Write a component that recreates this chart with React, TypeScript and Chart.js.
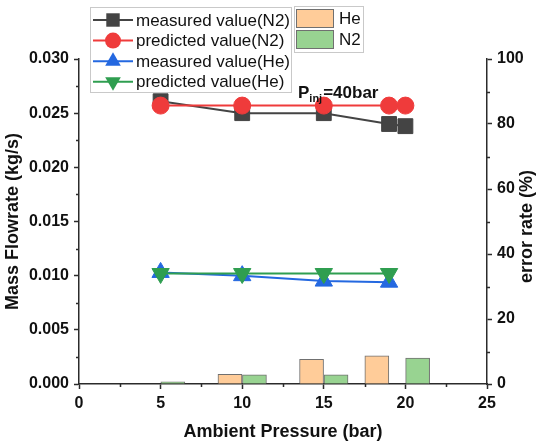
import React, { useEffect, useRef } from "react";
import { Chart, registerables } from "chart.js";

Chart.register(...registerables);

const FONT = '"Liberation Sans", Arial, Helvetica, sans-serif';

// ---- data ----
const pressureN2 = [5, 10, 15, 19, 20];
const measuredN2 = [0.0261, 0.025, 0.025, 0.024, 0.0238];
const predictedN2 = [0.0257, 0.0257, 0.0257, 0.0257, 0.0257];
const pressureHe = [5, 10, 15, 19];
const measuredHe = [0.0103, 0.01, 0.0095, 0.0094];
const predictedHe = [0.0102, 0.0102, 0.0102, 0.0102];
const errorPressureHe = [10, 15, 19];
const errorHe = [3.0, 7.6, 8.7];
const errorPressureN2 = [5, 10, 15, 20];
const errorN2 = [0.7, 2.8, 2.8, 8.0];

const xTickValues = [0, 5, 10, 15, 20, 25];
const leftTickValues = [0, 0.005, 0.01, 0.015, 0.02, 0.025, 0.03];
const rightTickValues = [0, 20, 40, 60, 80, 100];

const seriesLabels = [
  "measured value(N2)",
  "predicted value(N2)",
  "measured value(He)",
  "predicted value(He)",
];
const barLabels = ["He", "N2"];
const xTitle = "Ambient Pressure (bar)";
const yTitle = "Mass Flowrate (kg/s)";
const y1Title = "error rate (%)";

// ---- styles ----
const AXIS = "#2b2b2b";
const GRAY = "#444444";
const RED = "#EF3B3B";
const BLUE = "#2468E0";
const GREEN = "#2F9E50";
const ORANGE_BAR = "#FFCC99";
const GREEN_BAR = "#98D391";
const BAR_BORDER = "#707070";
const BAR_HALF = 0.75; // half bar width in x units (bars sit beside their pressure)

const pts = (xs: number[], ys: number[]) => xs.map((x, i) => ({ x, y: ys[i] }));

const minorBetween = (ticks: number[]) =>
  ticks.slice(0, -1).map((t, i) => (t + ticks[i + 1]) / 2);

function drawMarker(
  ctx: CanvasRenderingContext2D,
  style: string,
  x: number,
  y: number,
  r: number,
  color: string
) {
  ctx.save();
  ctx.fillStyle = color;
  ctx.strokeStyle = color;
  ctx.beginPath();
  if (style === "rect") {
    const s = r * Math.SQRT1_2;
    ctx.rect(x - s, y - s, 2 * s, 2 * s);
  } else if (style === "circle") {
    ctx.arc(x, y, r, 0, Math.PI * 2);
  } else if (style === "triangle") {
    ctx.moveTo(x, y - r);
    ctx.lineTo(x + r * 0.866, y + r * 0.5);
    ctx.lineTo(x - r * 0.866, y + r * 0.5);
    ctx.closePath();
  } else if (style === "triangleDown") {
    ctx.moveTo(x, y + r);
    ctx.lineTo(x + r * 0.866, y - r * 0.5);
    ctx.lineTo(x - r * 0.866, y - r * 0.5);
    ctx.closePath();
  }
  ctx.fill();
  ctx.restore();
}

const decorPlugin = {
  id: "decor",
  afterDraw(chart: any) {
    const ctx: CanvasRenderingContext2D = chart.ctx;
    const { x, y, y1 } = chart.scales;
    const area = chart.chartArea;
    ctx.save();
    // minor ticks
    ctx.strokeStyle = AXIS;
    ctx.lineWidth = 1.5;
    ctx.beginPath();
    for (const v of minorBetween(xTickValues)) {
      const px = Math.round(x.getPixelForValue(v)) + 0.5;
      ctx.moveTo(px, area.bottom);
      ctx.lineTo(px, area.bottom + 3);
    }
    for (const v of minorBetween(leftTickValues)) {
      const py = Math.round(y.getPixelForValue(v)) + 0.5;
      ctx.moveTo(area.left, py);
      ctx.lineTo(area.left - 3, py);
    }
    for (const v of minorBetween(rightTickValues)) {
      const py = Math.round(y1.getPixelForValue(v)) + 0.5;
      ctx.moveTo(area.right, py);
      ctx.lineTo(area.right + 3, py);
    }
    ctx.stroke();

    // right axis title (reads bottom to top)
    ctx.save();
    ctx.translate(527, (area.top + area.bottom) / 2 + 5);
    ctx.rotate(-Math.PI / 2);
    ctx.font = `bold 18px ${FONT}`;
    ctx.fillStyle = "#111";
    ctx.textAlign = "center";
    ctx.textBaseline = "middle";
    ctx.fillText(y1Title, 0, 0);
    ctx.restore();

    // legend 1 (series)
    ctx.fillStyle = "#ffffff";
    ctx.strokeStyle = "#c9c9c9";
    ctx.lineWidth = 1;
    ctx.fillRect(90.5, 7.5, 201, 85);
    ctx.strokeRect(90.5, 7.5, 201, 85);
    const legendItems = [
      { color: GRAY, style: "rect", r: 9.5 },
      { color: RED, style: "circle", r: 8 },
      { color: BLUE, style: "triangle", r: 9 },
      { color: GREEN, style: "triangleDown", r: 9 },
    ];
    legendItems.forEach((it, i) => {
      const cy = 20 + i * 20.6;
      ctx.strokeStyle = it.color;
      ctx.lineWidth = 2;
      ctx.beginPath();
      ctx.moveTo(93, cy);
      ctx.lineTo(133, cy);
      ctx.stroke();
      drawMarker(ctx, it.style, 113, cy, it.r, it.color);
      ctx.fillStyle = "#111";
      ctx.font = `17px ${FONT}`;
      ctx.textAlign = "left";
      ctx.textBaseline = "middle";
      ctx.fillText(seriesLabels[i], 136, cy + 1);
    });

    // legend 2 (bars)
    ctx.fillStyle = "#ffffff";
    ctx.strokeStyle = "#c9c9c9";
    ctx.lineWidth = 1;
    ctx.fillRect(294.5, 6.5, 69, 46);
    ctx.strokeRect(294.5, 6.5, 69, 46);
    [ORANGE_BAR, GREEN_BAR].forEach((c, i) => {
      const top = 9.5 + i * 21;
      ctx.fillStyle = c;
      ctx.fillRect(296.5, top, 37, 18);
      ctx.strokeStyle = BAR_BORDER;
      ctx.strokeRect(296.5, top, 37, 18);
      ctx.fillStyle = "#111";
      ctx.font = `17px ${FONT}`;
      ctx.textAlign = "left";
      ctx.textBaseline = "middle";
      ctx.fillText(barLabels[i], 339, top + 10);
    });

    // P_inj annotation
    ctx.fillStyle = "#111";
    ctx.textAlign = "left";
    ctx.textBaseline = "alphabetic";
    ctx.font = `bold 17px ${FONT}`;
    ctx.fillText("P", 298, 98);
    const pw = ctx.measureText("P").width;
    ctx.font = `bold 11px ${FONT}`;
    ctx.fillText("inj", 298 + pw, 102);
    const iw = ctx.measureText("inj").width;
    ctx.font = `bold 17px ${FONT}`;
    ctx.fillText("=40bar", 298 + pw + iw + 1, 98);

    ctx.restore();
  },
};

export default function App() {
  const ref = useRef<HTMLCanvasElement | null>(null);

  useEffect(() => {
    if (!ref.current) return;
    const lineDs = (
      label: string,
      xs: number[],
      ys: number[],
      color: string,
      pointStyle: string,
      r: number,
      rotation: number,
      order: number
    ) => ({
      type: "line" as const,
      label,
      data: pts(xs, ys),
      borderColor: color,
      backgroundColor: color,
      pointBackgroundColor: color,
      pointBorderColor: color,
      pointBorderWidth: 1,
      pointStyle,
      pointRotation: rotation,
      pointRadius: r,
      borderWidth: 2,
      tension: 0,
      fill: false,
      xAxisID: "x",
      yAxisID: "y",
      order,
    });

    const barDs = (
      label: string,
      xs: number[],
      ys: number[],
      shift: number,
      color: string
    ) => ({
      type: "bar" as const,
      label,
      data: xs.map((x, i) => ({ x: x + shift, y: ys[i] })),
      backgroundColor: color,
      borderColor: BAR_BORDER,
      borderWidth: 1,
      barThickness: 24,
      grouped: false,
      xAxisID: "x",
      yAxisID: "y1",
      order: 10,
    });

    const tickFont = { family: FONT, size: 16, weight: "bold" as const };
    const titleFont = { family: FONT, size: 18, weight: "bold" as const, lineHeight: 1 };
    const gridOpts = {
      display: true,
      drawOnChartArea: false,
      drawTicks: true,
      tickLength: 5,
      tickColor: AXIS,
      tickWidth: 1.5,
    };
    const borderOpts = { display: true, color: AXIS, width: 1.5 };

    const chart = new Chart(ref.current, {
      type: "line",
      data: {
        datasets: [
          lineDs(seriesLabels[0], pressureN2, measuredN2, GRAY, "rect", 10.5, 0, 4),
          lineDs(seriesLabels[1], pressureN2, predictedN2, RED, "circle", 8.5, 0, 3),
          lineDs(seriesLabels[2], pressureHe, measuredHe, BLUE, "triangle", 10, 0, 2),
          lineDs(seriesLabels[3], pressureHe, predictedHe, GREEN, "triangle", 10, 180, 1),
          barDs(barLabels[0], errorPressureHe, errorHe, -BAR_HALF, ORANGE_BAR),
          barDs(barLabels[1], errorPressureN2, errorN2, BAR_HALF, GREEN_BAR),
        ] as any,
      },
      options: {
        responsive: false,
        animation: false,
        layout: { padding: { top: 59, left: 0, right: 0, bottom: 0 } },
        plugins: {
          legend: { display: false },
          tooltip: { enabled: false },
        },
        scales: {
          x: {
            type: "linear",
            position: "bottom",
            min: 0,
            max: 25,
            offset: false,
            grid: { ...gridOpts, offset: false },
            border: borderOpts,
            afterBuildTicks: (s: any) => {
              s.ticks = xTickValues.map((v) => ({ value: v }));
            },
            afterFit: (s: any) => {
              s.height = 57;
            },
            ticks: {
              font: tickFont,
              color: "#111",
              padding: 5,
              maxRotation: 0,
              callback: (v: any) => String(v),
            },
            title: {
              display: true,
              text: xTitle,
              font: titleFont,
              color: "#111",
              padding: { top: 0, bottom: 0 },
            },
          },
          y: {
            type: "linear",
            position: "left",
            min: 0,
            max: 0.03,
            grid: gridOpts,
            border: borderOpts,
            afterBuildTicks: (s: any) => {
              s.ticks = leftTickValues.map((v) => ({ value: v }));
            },
            afterFit: (s: any) => {
              s.width = 79;
            },
            ticks: {
              font: tickFont,
              color: "#111",
              padding: 5,
              callback: (v: any) => Number(v).toFixed(3),
            },
            title: {
              display: true,
              text: yTitle,
              font: titleFont,
              color: "#111",
              padding: { top: 4, bottom: 0 },
            },
          },
          y1: {
            type: "linear",
            position: "right",
            min: 0,
            max: 100,
            grid: gridOpts,
            border: borderOpts,
            afterBuildTicks: (s: any) => {
              s.ticks = rightTickValues.map((v) => ({ value: v }));
            },
            afterFit: (s: any) => {
              s.width = 55;
            },
            ticks: {
              font: tickFont,
              color: "#111",
              padding: 5,
              callback: (v: any) => String(v),
            },
          },
        },
      } as any,
      plugins: [decorPlugin],
    });
    return () => chart.destroy();
  }, []);

  return (
    <div style={{ position: "fixed", left: 0, top: 0, width: 542, height: 441, background: "#fff" }}>
      <canvas ref={ref} width={542} height={441} style={{ display: "block" }} />
    </div>
  );
}
